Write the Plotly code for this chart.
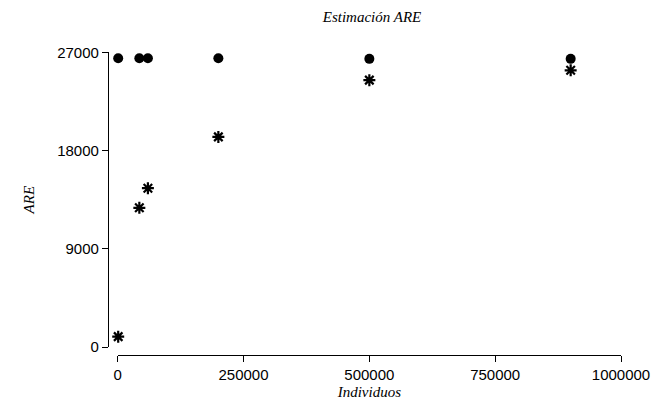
import plotly.graph_objects as go

individuos = [1000, 43000, 60000, 200000, 500000, 900000]
are_circulo = [26450, 26450, 26450, 26450, 26400, 26400]
are_estrella = [950, 12750, 14550, 19250, 24450, 25350]

x_ticks = [0, 250000, 500000, 750000, 1000000]
y_ticks = [0, 9000, 18000, 27000]

W, H = 654, 400

fig = go.Figure()
fig.add_trace(go.Scatter(
    x=individuos, y=are_circulo, mode="markers",
    marker=dict(symbol="circle", size=10, color="black"),
    cliponaxis=False, showlegend=False))
fig.add_trace(go.Scatter(
    x=individuos, y=are_estrella, mode="markers",
    marker=dict(symbol="asterisk-open", size=10, color="black",
                line=dict(color="black", width=2.2)),
    cliponaxis=False, showlegend=False))

tick_font = dict(family="Liberation Sans, Arial, sans-serif", size=15, color="black")
title_font = dict(family="Liberation Serif, Times New Roman, serif", size=15, color="black")

fig.update_layout(
    width=W, height=H,
    margin=dict(l=0, r=0, t=0, b=0),
    paper_bgcolor="white", plot_bgcolor="white",
    title=dict(text="<i>Estimación ARE</i>", x=372 / W, xanchor="center",
               y=1 - 17 / H, yanchor="middle", font=title_font),
    xaxis=dict(
        domain=[117.7 / W, 621 / W], range=[0, 1000000],
        tickvals=x_ticks, ticktext=[str(v) for v in x_ticks],
        showline=True, linecolor="black", linewidth=1.3,
        ticks="outside", ticklen=6, tickcolor="black", tickwidth=1.3,
        showgrid=False, zeroline=False,
        anchor="free", position=(H - 355) / H,
        tickfont=tick_font, automargin=False,
        title=dict(text="<i>Individuos</i>", font=title_font, standoff=6),
    ),
    yaxis=dict(
        domain=[(H - 347) / H, (H - 52.3) / H], range=[0, 27000],
        tickvals=y_ticks, ticktext=[str(v) for v in y_ticks],
        showline=True, linecolor="black", linewidth=1.3,
        ticks="outside", ticklen=6, tickcolor="black", tickwidth=1.3,
        showgrid=False, zeroline=False,
        anchor="free", position=108 / W,
        tickfont=tick_font, automargin=False,
        title=dict(text="<i>ARE</i>", font=title_font, standoff=17),
    ),
)

fig.write_html("out.html",
               config={"displayModeBar": False},
               post_script="document.body.style.margin='0';document.body.style.padding='0';")
